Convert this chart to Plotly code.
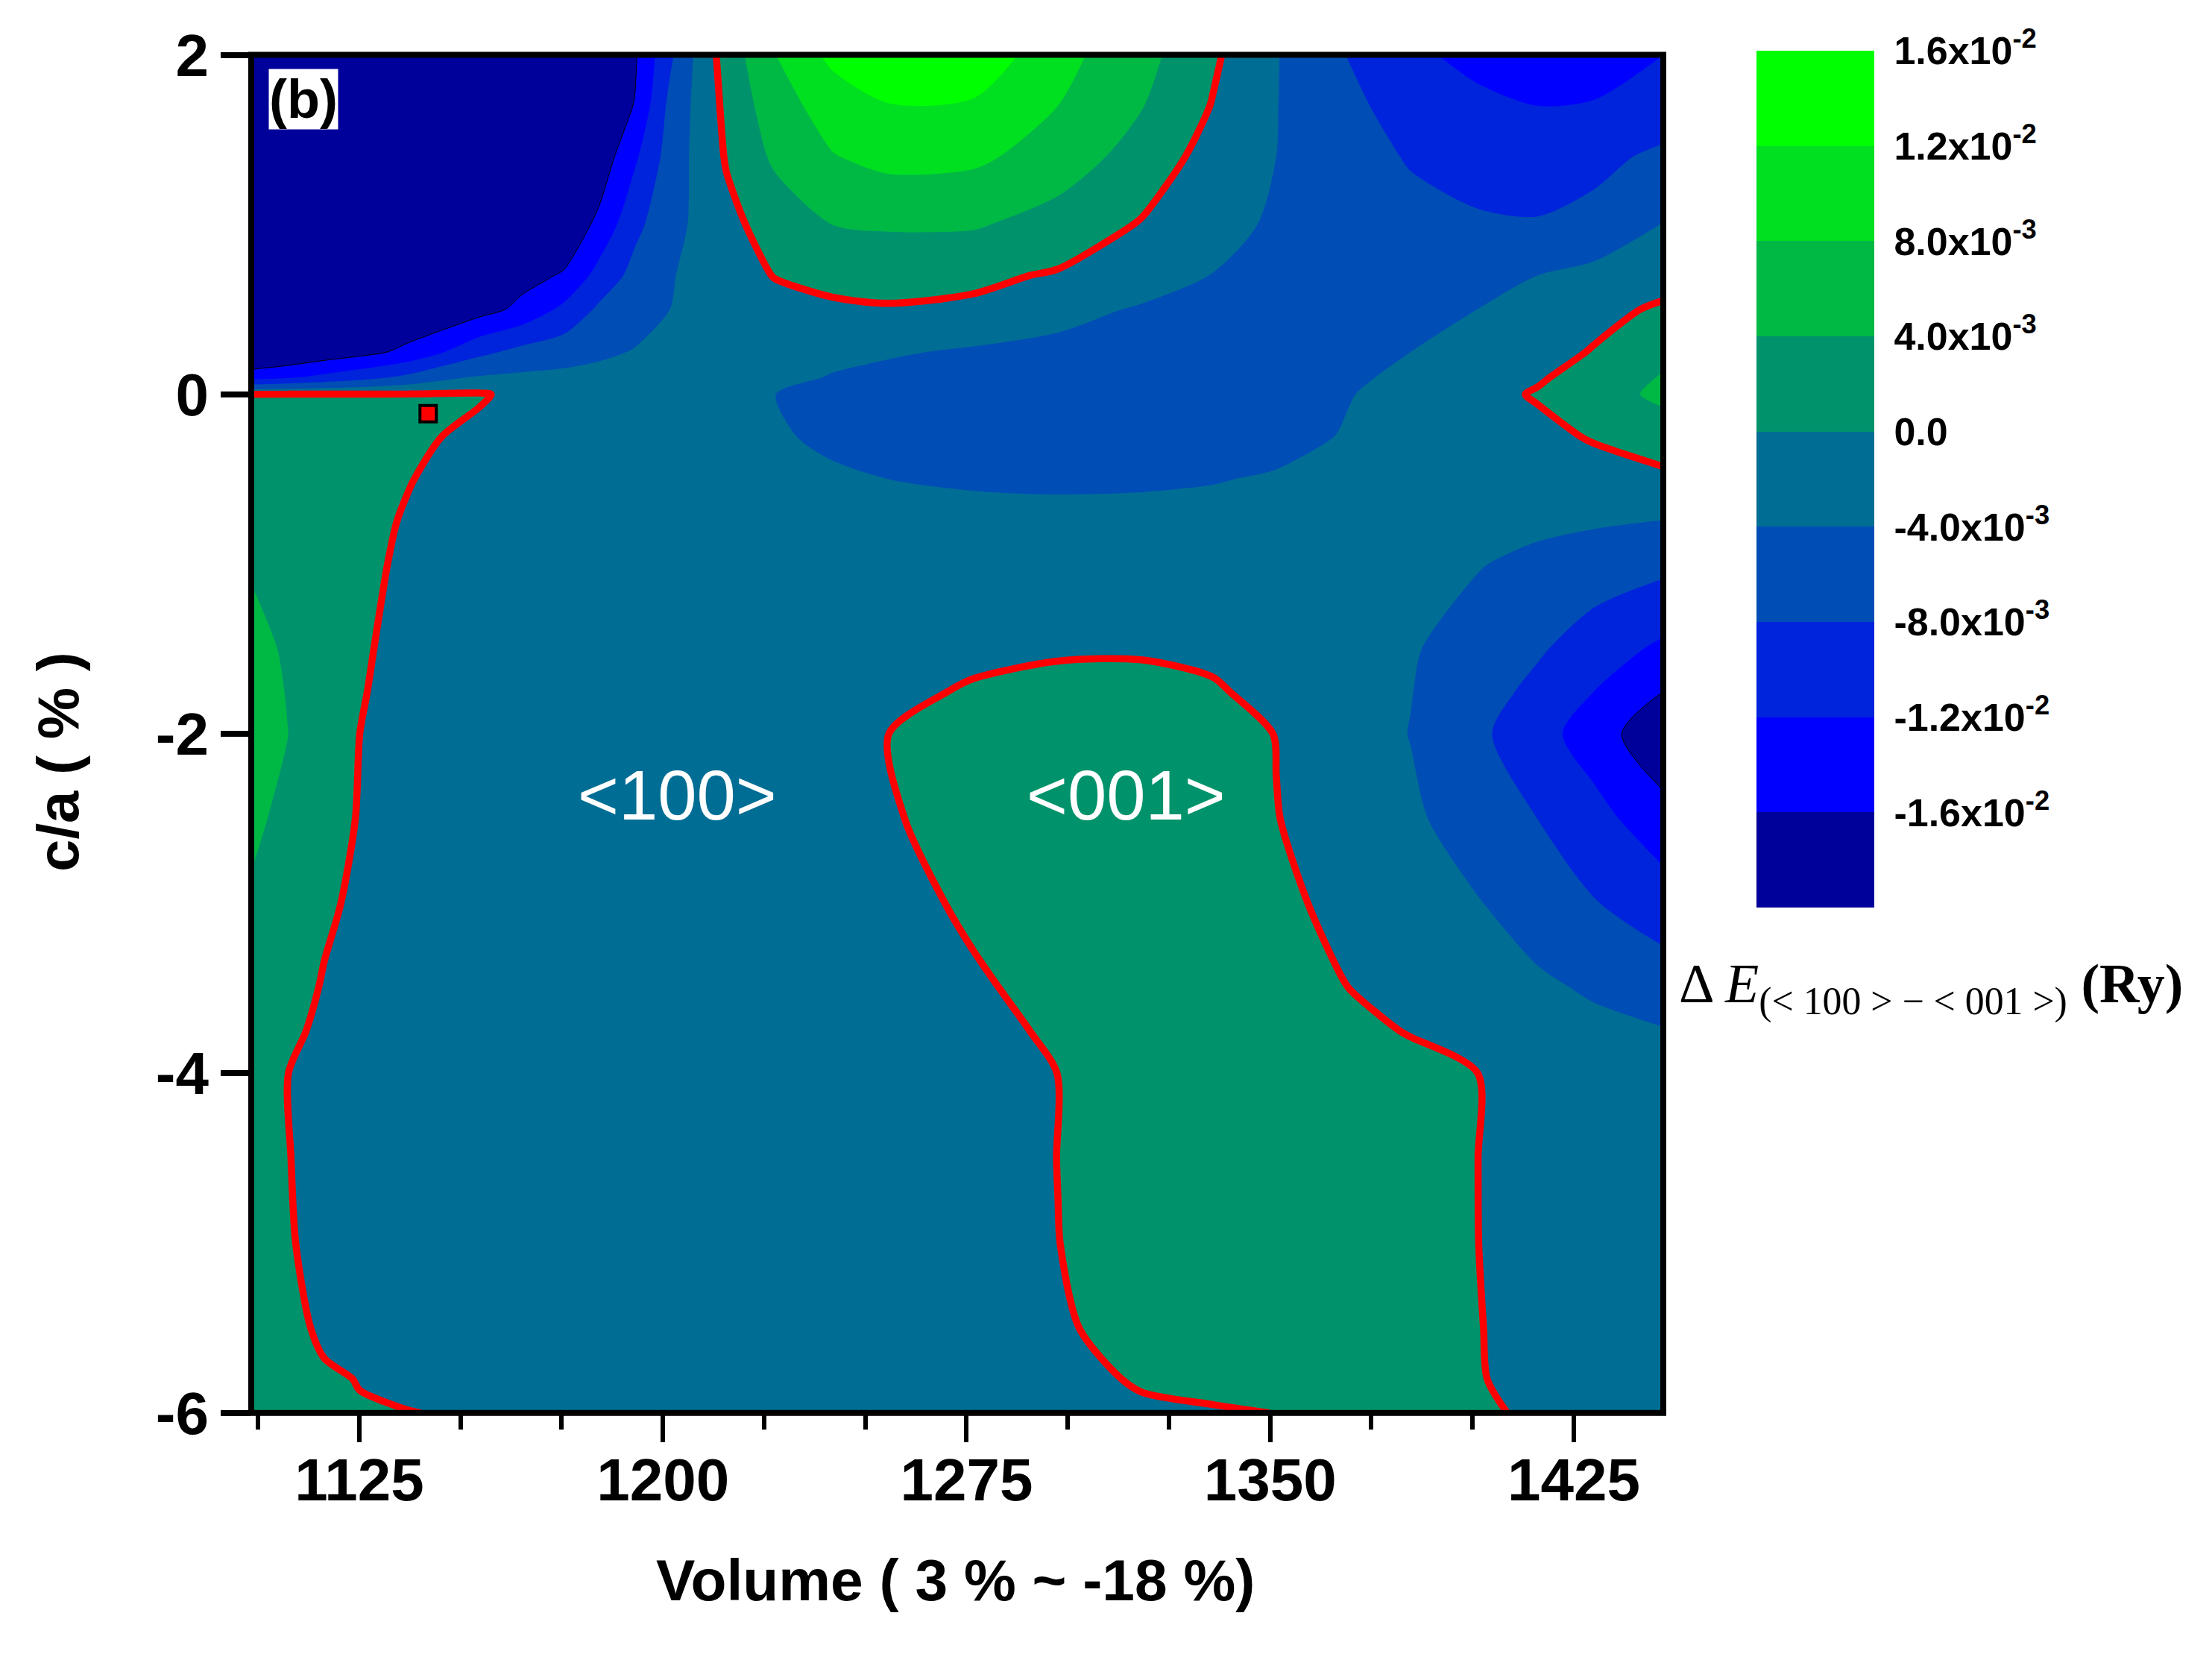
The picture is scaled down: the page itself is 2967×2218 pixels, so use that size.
import plotly.graph_objects as go

# cell volume (x), c/a strain in % (y), energy difference in 1e-3 Ry (z)
VOLUME = [1098.3, 1107.3, 1116.4, 1125.1, 1137.3, 1154.7, 1165.2, 1175.6, 1184.3, 1193.0, 1201.7, 1208.7, 1215.7, 1227.9,
          1241.8, 1255.8, 1276.7, 1297.6, 1318.5, 1335.9, 1351.5, 1367.2, 1384.7, 1401.1, 1416.0, 1430.0, 1447.1]

C_OVER_A = [2, 1.7, 1.4, 1.0, 0.7, 0.5, 0.25, 0.1, 0, -0.25, -0.5, -0.75, -1, -1.5, -1.75, -2, -2.5, -3, -3.5, -3.75, -4,
            -4.5, -5, -5.5, -5.8, -6]

DELTA_E = [
    [-40, -38, -36, -34, -32, -28, -25, -22, -19, -16.5, -8.8, -3, 1.7, 8, 13, 16, 15, 9.3, 5.3, 0.6, -3.8, -7.7, -11.3, -13, -14, -13.5, -12],
    [-30, -29, -28, -27, -25, -22, -20, -19, -18, -15.9, -7, -2.9, 0.9, 6.4, 9.7, 11.8, 11.5, 8, 4.1, -0.2, -3.9, -6.9, -9.5, -11.2, -12, -11.8, -11],
    [-24, -23.5, -23, -22, -21, -20, -19.5, -19, -18.5, -12.7, -6.3, -2.9, 0.3, 4.8, 7.8, 9.2, 8.8, 6.2, 2.3, -1.5, -4, -6.3, -8.3, -9.6, -10.2, -9.3, -7],
    [-26, -25, -24, -23, -21.5, -20, -19.5, -19, -15, -9, -5.5, -3.1, -1, 1.6, 4, 4.5, 4.4, 2.4, -0.3, -2.6, -4.6, -5.8, -6.9, -7.5, -7.7, -6.6, -3.9],
    [-24, -23, -22, -21, -20, -18.5, -17.3, -15.6, -10.5, -6.8, -4.3, -2.9, -1.5, 0.15, 0.7, 0.9, 0.7, -0.35, -2.2, -4.1, -4.8, -5.3, -5.3, -4.8, -4, -3, -1.4],
    [-23, -22.5, -22, -21, -19.5, -17.5, -15, -11, -7.3, -5.8, -4, -3.3, -2.7, -1.2, -0.4, -0.2, -0.6, -2.8, -4.4, -5, -5, -4.8, -4.5, -4, -2.6, -1, 0.5],
    [-21, -20, -18.5, -17.3, -15, -9, -6.8, -5.8, -4.7, -3.8, -3.4, -3.2, -3, -2.8, -3.1, -3.6, -4.5, -5, -5.3, -5.4, -5.2, -4.8, -4, -2.8, -1.2, 0.2, 3],
    [-13.7, -12.5, -11, -9.5, -7, -3.6, -3.3, -3, -2.8, -2.6, -2.6, -2.6, -2.7, -3, -4.2, -5, -5.5, -5.8, -5.9, -5.9, -5.5, -4.7, -3.3, -1.8, -0.4, 1.4, 4.3],
    [0.1, 0.1, 0.1, 0.1, 0.15, 0.3, -0.8, -1.5, -2, -2.4, -2.6, -2.9, -3.3, -4, -5, -5.7, -6.2, -6.4, -6.5, -6.3, -5.6, -4.4, -2.6, -1.2, 0.3, 2.2, 4.9],
    [1.5, 1.4, 1.3, 1.1, 0.6, -0.7, -1.2, -1.7, -2.1, -2.4, -2.6, -2.9, -3.2, -3.7, -4.5, -5, -5.4, -5.6, -5.7, -5.6, -5, -3.9, -2.9, -2.3, -1, 0.3, 1.9],
    [2, 1.9, 1.6, 1, 0.1, -1.3, -1.6, -1.9, -2.1, -2.3, -2.5, -2.6, -2.8, -3.1, -3.6, -4, -4.3, -4.4, -4.35, -4.15, -3.7, -3.3, -2.7, -2.5, -2.2, -1.6, -0.8],
    [2.8, 2.5, 1.8, 0.9, -0.3, -1.4, -1.7, -1.9, -2.1, -2.2, -2.3, -2.4, -2.5, -2.6, -2.8, -3, -3.2, -3.3, -3.2, -3, -2.9, -2.7, -2.5, -2.6, -3.2, -3.6, -4.1],
    [3.7, 3, 2, 0.9, -0.7, -1.5, -1.7, -1.9, -2, -2.1, -2.2, -2.2, -2.2, -2.2, -2.2, -2.3, -2.4, -2.3, -2.3, -2.3, -2.3, -2.6, -3, -3.8, -4.9, -5.9, -7],
    [5, 3.6, 2.1, 0.4, -1, -1.6, -1.75, -1.9, -2, -2, -2, -2, -2, -1.9, -1.6, -1.2, -0.7, -0.4, -0.35, -0.7, -1.8, -2.8, -3.7, -5.5, -7.5, -10, -12.8],
    [6, 3.8, 2, 0.2, -1.1, -1.65, -1.8, -1.9, -2, -2, -1.95, -1.9, -1.85, -1.65, -1.15, -0.7, 0.3, 1, 1, 0.35, -1, -2.4, -3.9, -6.3, -9, -12, -16],
    [7, 4.05, 1.9, 0, -1.2, -1.7, -1.8, -1.9, -2, -2, -1.9, -1.8, -1.7, -1.4, -0.7, 0, 2, 2.9, 2.8, 1.8, -0.1, -2, -4.1, -7.2, -10.4, -14, -19],
    [4.8, 3, 1.4, -0.2, -1.2, -1.7, -1.8, -1.9, -1.9, -1.9, -1.9, -1.8, -1.7, -1.5, -1, -0.3, 1.3, 2.2, 2.2, 1.5, 0.1, -1.5, -3.4, -5.7, -8, -10.6, -14.5],
    [3.5, 2.2, 0.6, -0.7, -1.4, -1.7, -1.8, -1.9, -1.9, -1.9, -1.9, -1.8, -1.8, -1.7, -1.4, -1, 0.5, 1.5, 1.7, 1.4, 0.7, -0.7, -2.3, -3.8, -5.6, -7.8, -10],
    [2.8, 1.5, -0.3, -1.1, -1.6, -1.8, -1.85, -1.9, -1.9, -1.9, -1.9, -1.9, -1.8, -1.8, -1.6, -1.3, -0.4, 0.9, 1.2, 1.1, 0.9, 0.15, -1, -2.2, -3.4, -4.4, -6],
    [2.2, 0.7, -0.7, -1.25, -1.65, -1.8, -1.85, -1.9, -1.9, -1.9, -1.9, -1.9, -1.8, -1.8, -1.65, -1.4, -0.6, 0.3, 1.05, 1.05, 0.95, 0.55, -0.1, -1.1, -2.3, -3.2, -3.8],
    [1.5, 0.02, -1, -1.4, -1.7, -1.8, -1.85, -1.9, -1.9, -1.9, -1.9, -1.9, -1.8, -1.8, -1.7, -1.5, -0.8, 0.01, 0.9, 1, 1, 0.9, 0.6, 0.02, -1.2, -2, -2.8],
    [1.4, 0.1, -1, -1.4, -1.7, -1.8, -1.85, -1.9, -1.9, -1.9, -1.9, -1.9, -1.8, -1.8, -1.8, -1.6, -1.1, 0.02, 0.9, 1, 1, 0.95, 0.8, 0.02, -1.2, -1.7, -2.2],
    [1.3, 0.25, -0.9, -1.3, -1.6, -1.8, -1.85, -1.9, -1.9, -1.9, -1.9, -1.9, -1.8, -1.8, -1.8, -1.7, -1.2, -0.02, 0.8, 0.95, 0.95, 0.95, 0.8, 0.03, -1.1, -1.6, -2],
    [0.9, 0.5, -0.3, -0.8, -1.1, -1.4, -1.45, -1.5, -1.5, -1.5, -1.5, -1.5, -1.5, -1.5, -1.5, -1.4, -1, -0.3, 0.9, 0.8, 0.75, 0.75, 0.6, 0.12, -1, -1.3, -1.6],
    [0.5, 0.4, 0.2, -0.05, -0.25, -0.4, -0.45, -0.5, -0.5, -0.5, -0.5, -0.5, -0.5, -0.5, -0.5, -0.5, -0.4, -0.3, 0.1, 0.25, 0.3, 0.3, 0.3, 0.1, -0.5, -0.7, -0.8],
    [0.2, 0.2, 0.15, 0.1, 0.02, -0.1, -0.12, -0.15, -0.15, -0.15, -0.15, -0.15, -0.15, -0.15, -0.15, -0.15, -0.12, -0.1, -0.15, -0.08, 0.01, 0.05, 0.05, 0.02, -0.02, -0.1, -0.15],
]

BAND_COLORS = ["#00009B", "#0000FF", "#0023DC", "#004DB5", "#006E94", "#00936B", "#00B945", "#00DF20", "#00FF00"]
BAND_MIDS = [-18, -14, -10, -6, -2, 2, 6, 10, 14]
CBAR_VALS = [16, 12, 8, 4, 0, -4, -8, -12, -16]
CBAR_TEXT = ["1.6x10<sup>-2</sup>", "1.2x10<sup>-2</sup>", "8.0x10<sup>-3</sup>", "4.0x10<sup>-3</sup>", "0.0",
             "-4.0x10<sup>-3</sup>", "-8.0x10<sup>-3</sup>", "-1.2x10<sup>-2</sup>", "-1.6x10<sup>-2</sup>"]
X_TICKS = [1125, 1200, 1275, 1350, 1425]
Y_TICKS = [-6, -4, -2, 0, 2]
Y_TICK_TEXT = ["-6", "-4", "-2", "0", "2"]
SITE_X = [1142]
SITE_Y = [-0.114]

SANS = "Liberation Sans"
SERIF = "Liberation Serif"
SMOOTH = 0.8

# the page body adds 8 px around the figure
W, H = 2951, 2202


def fx(px):
    return (px - 8) / W


def fy(py):
    return 1 - (py - 8) / H


z = DELTA_E[::-1]
y = C_OVER_A[::-1]

colorscale = [[i / (len(BAND_COLORS) - 1), c] for i, c in enumerate(BAND_COLORS)]

fig = go.Figure()

fig.add_trace(go.Contour(
    x=VOLUME, y=y, z=z,
    autocontour=False,
    contours=dict(start=-16, end=12, size=4, coloring="fill", showlines=False),
    colorscale=colorscale,
    line=dict(width=0, smoothing=SMOOTH),
    showscale=False,
    hoverinfo="skip",
))

# the zero line between the two easy axes
fig.add_trace(go.Contour(
    x=VOLUME, y=y, z=z,
    autocontour=False,
    contours=dict(start=0, end=0, size=1, coloring="none"),
    line=dict(color="#FF0000", width=9.5, smoothing=SMOOTH),
    showscale=False,
    hoverinfo="skip",
))

# thin outline on the darkest band
fig.add_trace(go.Contour(
    x=VOLUME, y=y, z=z,
    autocontour=False,
    contours=dict(start=-16, end=-16, size=1, coloring="none"),
    line=dict(color="black", width=1, smoothing=SMOOTH),
    showscale=False,
    hoverinfo="skip",
))

fig.add_trace(go.Scatter(
    x=SITE_X, y=SITE_Y, mode="markers",
    marker=dict(symbol="square", size=22, color="#FF0000", line=dict(color="black", width=4)),
    showlegend=False,
))

# colour key drawn as its own small axis so the bands sit exactly between the labelled levels
fig.add_trace(go.Heatmap(
    x=[0.5], y=BAND_MIDS, z=[[m] for m in BAND_MIDS],
    xaxis="x2", yaxis="y2",
    colorscale=colorscale, zmin=-18, zmax=14, showscale=False, hoverinfo="skip",
))

fig.update_layout(
    width=W, height=H, autosize=False,
    margin=dict(l=0, r=0, t=0, b=0, pad=0),
    paper_bgcolor="white", plot_bgcolor="white",
    showlegend=False,
    xaxis=dict(
        domain=[fx(337), fx(2231)], automargin=False,
        range=[1098.3, 1447.1], showgrid=False, zeroline=False, showline=False,
        tickmode="array", tickvals=X_TICKS,
        ticks="outside", ticklen=38, tickwidth=6, tickcolor="black",
        ticklabelstandoff=-18,
        minor=dict(tick0=1100, dtick=25, ticks="outside", ticklen=21, tickwidth=6, tickcolor="black"),
        tickfont=dict(family=SANS, size=80, color="black", weight="bold"),
    ),
    yaxis=dict(
        domain=[fy(1894.7), fy(73.5)], automargin=False,
        range=[-6, 2], showgrid=False, zeroline=False, showline=False,
        tickmode="array", tickvals=Y_TICKS, ticktext=Y_TICK_TEXT,
        ticks="outside", ticklen=40, tickwidth=8, tickcolor="black",
        tickfont=dict(family=SANS, size=80, color="black", weight="bold"),
    ),
    xaxis2=dict(domain=[fx(2356), fx(2514)], range=[0, 1], anchor="y2", visible=False, fixedrange=True, automargin=False),
    yaxis2=dict(
        domain=[fy(1217), fy(68)], range=[-20, 16], anchor="x2", side="right", automargin=False,
        showgrid=False, zeroline=False, showline=False,
        tickmode="array", tickvals=CBAR_VALS, ticktext=CBAR_TEXT,
        ticks="outside", ticklen=15, tickwidth=1, tickcolor="rgba(0,0,0,0)",
        tickfont=dict(family=SANS, size=52, color="black", weight="bold"),
    ),
    shapes=[dict(type="rect", xref="x domain", yref="y domain", x0=0, x1=1, y0=0, y1=1,
                 line=dict(color="black", width=8), layer="above")],
    annotations=[
        dict(text="Volume ( 3 % ~ -18 %)", xref="paper", yref="paper", x=fx(1281), y=fy(2119),
             xanchor="center", yanchor="middle",
             showarrow=False, font=dict(family=SANS, size=78.5, color="black", weight="bold")),
        dict(text="c/a ( % )", xref="paper", yref="paper", x=fx(78), y=fy(1022), textangle=-90,
             xanchor="center", yanchor="middle",
             showarrow=False, font=dict(family=SANS, size=78, color="black", weight="bold")),
        dict(text="(b)", xref="paper", yref="paper", x=fx(407), y=fy(133), xanchor="center", yanchor="middle",
             showarrow=False, bgcolor="white", borderpad=0,
             font=dict(family=SANS, size=72, color="black", weight="bold")),
        dict(text="&lt;100&gt;", xref="x", yref="y", x=1203.5, y=-2.36,
             showarrow=False, font=dict(family=SANS, size=94, color="white")),
        dict(text="&lt;001&gt;", xref="x", yref="y", x=1314.5, y=-2.36,
             showarrow=False, font=dict(family=SANS, size=94, color="white")),
        dict(text="Δ <i>E</i><sub>(&lt; 100 &gt; − &lt; 001 &gt;)</sub> <b>(Ry)</b>",
             xref="paper", yref="paper", x=fx(2250), y=fy(1325), xanchor="left", yanchor="middle",
             showarrow=False, font=dict(family=SERIF, size=74, color="black")),
    ],
)

fig.write_html("out.html")
